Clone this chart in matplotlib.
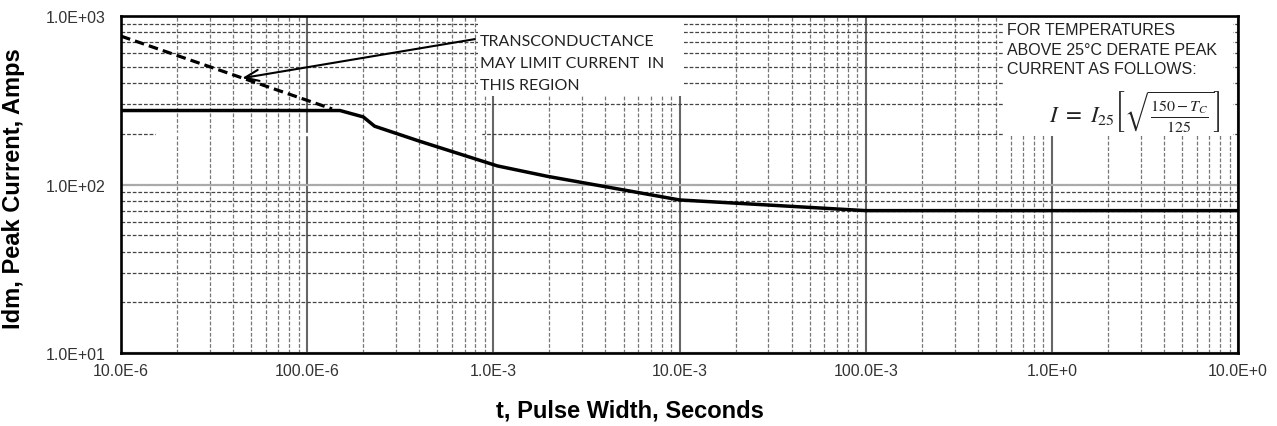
import numpy as np
import matplotlib
matplotlib.use('Agg')
import matplotlib.pyplot as plt
from matplotlib.ticker import LogLocator, NullFormatter
from matplotlib.patches import Rectangle

plt.rcParams['font.family'] = ['Liberation Sans', 'DejaVu Sans']
plt.rcParams['mathtext.fontset'] = 'stix'

# peak current limit curve
pulse_width = [1e-5, 1.5e-4, 2.0e-4, 2.3e-4, 4.0e-4, 1.05e-3, 1.94e-3, 1.0e-2, 0.1, 10.0]
peak_current = [275, 275, 252, 222, 181, 129, 112, 81, 70, 70]

# transconductance limit (dashed)
gm_width = [1e-5, 1.36e-4]
gm_current = [760, 281]

# arrow: tail near the note, tip on the dashed line
arrow_tail = (7.96e-4, 730)
arrow_tip = (4.47e-5, 428)

x_ticks = [1e-5, 1e-4, 1e-3, 1e-2, 1e-1, 1e0, 1e1]
x_labels = ['10.0E-6', '100.0E-6', '1.0E-3', '10.0E-3', '100.0E-3', '1.0E+0', '10.0E+0']
y_ticks = [10, 100, 1000]
y_labels = ['1.0E+01', '1.0E+02', '1.0E+03']

fig = plt.figure(figsize=(12.77, 4.27), dpi=100)
ax = fig.add_axes([0.0948, 0.171, 0.8747, 0.789])

ax.set_xscale('log')
ax.set_yscale('log')
ax.set_xlim(1e-5, 10)
ax.set_ylim(10, 1000)

ax.set_xticks(x_ticks, labels=x_labels)
ax.set_yticks(y_ticks, labels=y_labels)
ax.xaxis.set_minor_locator(LogLocator(base=10, subs=np.arange(2, 10)))
ax.yaxis.set_minor_locator(LogLocator(base=10, subs=np.arange(2, 10)))
ax.xaxis.set_minor_formatter(NullFormatter())
ax.yaxis.set_minor_formatter(NullFormatter())
ax.tick_params(which='both', length=0)
ax.tick_params(axis='x', pad=7, labelsize=11.5, labelcolor='#333333')
ax.tick_params(axis='y', pad=11, labelsize=11.5, labelcolor='#333333')

# grid like the scanned datasheet
ax.xaxis.grid(True, which='major', color='#666666', lw=1.5, ls='-')
ax.yaxis.grid(True, which='major', color='#aaaaaa', lw=1.6, ls='-')
ax.xaxis.grid(True, which='minor', color='#777777', lw=0.9, ls=(0, (3, 1.5)))
ax.yaxis.grid(True, which='minor', color='#444444', lw=0.9, ls=(0, (3, 1.5)))

# gap in the 200 A line seen in the original
ax.axhline(200, xmin=0.032, xmax=0.321, color='white', lw=2.5, zorder=1.6)

for s in ax.spines.values():
    s.set_linewidth(1.9)
    s.set_color('black')
    s.set_zorder(3)

# white note areas that hide the grid
ax.add_patch(Rectangle((0.3196, 0.763), 0.1834, 0.237, transform=ax.transAxes,
                       facecolor='white', edgecolor='none', zorder=1.7))
ax.add_patch(Rectangle((0.790, 0.644), 0.2055, 0.356, transform=ax.transAxes,
                       facecolor='white', edgecolor='none', zorder=1.7))

ax.plot(pulse_width, peak_current, color='black', lw=2.5, zorder=2.2,
        solid_joinstyle='round')
ax.plot(gm_width, gm_current, color='black', lw=2.3, ls=(0, (3, 1.6)), zorder=2.2)

ax.annotate('', xy=arrow_tip, xytext=arrow_tail,
            arrowprops=dict(arrowstyle='->,head_length=1.0,head_width=0.4',
                            color='black', lw=1.5, shrinkA=0, shrinkB=0),
            zorder=2.3)

ax.text(0.3214, 0.946, 'TRANSCONDUCTANCE\nMAY LIMIT CURRENT  IN\nTHIS REGION',
        transform=ax.transAxes, ha='left', va='top', fontsize=11.5,
        family=['Lato', 'DejaVu Sans'], color='#222222', linespacing=1.7, zorder=2.5)

ax.text(0.793, 0.981, 'FOR TEMPERATURES\nABOVE 25\u00b0C DERATE PEAK\nCURRENT AS FOLLOWS:',
        transform=ax.transAxes, ha='left', va='top', fontsize=11.5,
        color='#222222', linespacing=1.35, zorder=2.5)

ax.text(0.908, 0.718, r'$I\ =\ I_{25}\left[\sqrt{\frac{150-T_C}{125}}\right]$',
        transform=ax.transAxes, ha='center', va='center', fontsize=16.5,
        color='#222222', zorder=2.5)

ax.set_xlabel('t, Pulse Width, Seconds', fontsize=17, fontweight='bold')
ax.set_ylabel('Idm, Peak Current, Amps', fontsize=17, fontweight='bold')
ax.xaxis.set_label_coords(0.456, -0.135)
ax.yaxis.set_label_coords(-0.086, 0.49)

fig.savefig('out.png', dpi=100)
